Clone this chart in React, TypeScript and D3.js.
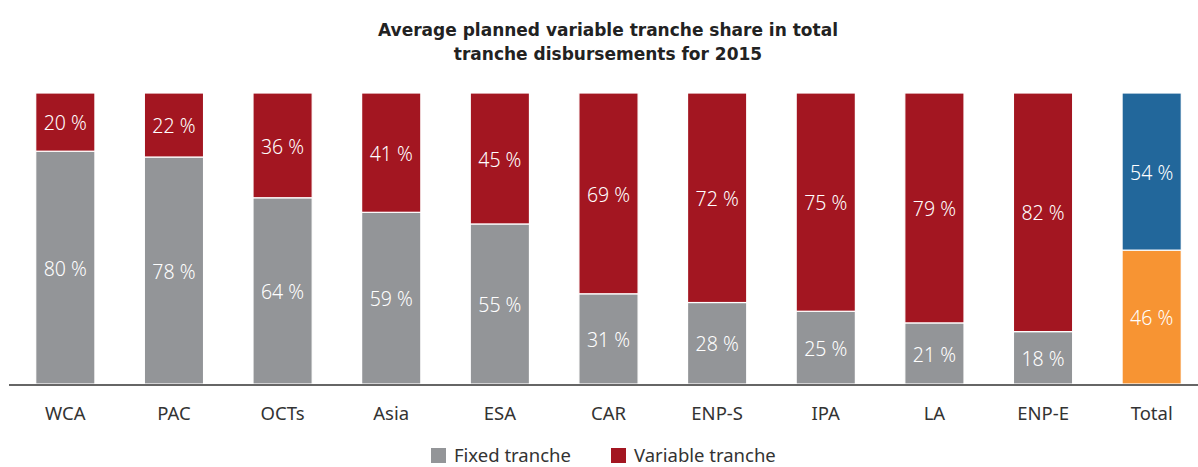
import React from 'react';
import * as d3 from 'd3';

const categories = ['WCA', 'PAC', 'OCTs', 'Asia', 'ESA', 'CAR', 'ENP-S', 'IPA', 'LA', 'ENP-E', 'Total'];
const fixedShare = [80, 78, 64, 59, 55, 31, 28, 25, 21, 18, 46];
const variableShare = [20, 22, 36, 41, 45, 69, 72, 75, 79, 82, 54];
const legendLabels = ['Fixed tranche', 'Variable tranche'];
const titleLines = ['Average planned variable tranche share in total', 'tranche disbursements for 2015'];

const W = 1198;
const H = 467;
const FONT = '"Noto Sans", "Open Sans", sans-serif';
const TITLE_FONT = '"DejaVu Sans", "Noto Sans", sans-serif';

const GRAY = '#939598';
const RED = '#A31621';
const BLUE = '#22679B';
const ORANGE = '#F79433';

const App = () => {
  const x = d3.scaleBand<string>()
    .domain(categories)
    .range([11, 1206])
    .paddingInner(0.455)
    .paddingOuter(0.2275);

  const y = d3.scaleLinear().domain([0, 100]).range([384, 93]);
  const bw = x.bandwidth();

  return (
    <svg width={W} height={H} style={{ position: 'absolute', left: 0, top: 0, fontFamily: FONT }}>
      <rect width={W} height={H} fill="#fff" />
      {titleLines.map((t, i) => (
        <text key={t} x={608} y={36 + i * 24} textAnchor="middle" fontSize={17}
          fontFamily={TITLE_FONT} fontWeight="bold" fill="#222">
          {t}
        </text>
      ))}

      {categories.map((c, i) => {
        const isTotal = c === 'Total';
        const x0 = x(c) as number;
        const fTop = y(fixedShare[i]);
        const vTop = y(fixedShare[i] + variableShare[i]);
        return (
          <g key={c}>
            <rect x={x0} y={fTop} width={bw} height={y(0) - fTop}
              fill={isTotal ? ORANGE : GRAY} stroke="#fff" strokeWidth={1.2} />
            <rect x={x0} y={vTop} width={bw} height={fTop - vTop}
              fill={isTotal ? BLUE : RED} stroke="#fff" strokeWidth={1.2} />
            <text x={x0 + bw / 2} y={(fTop + y(0)) / 2 + 3} textAnchor="middle" dominantBaseline="middle"
              fontSize={19.5} fontWeight={300} fill="#fff">{fixedShare[i]} %</text>
            <text x={x0 + bw / 2} y={(vTop + fTop) / 2 + 3} textAnchor="middle" dominantBaseline="middle"
              fontSize={19.5} fontWeight={300} fill="#fff">{variableShare[i]} %</text>
            <text x={x0 + bw / 2} y={420} textAnchor="middle" fontSize={18.5} fill="#333">{c}</text>
          </g>
        );
      })}

      <line x1={9} x2={W} y1={y(0) + 1} y2={y(0) + 1} stroke="#666" strokeWidth={2} />

      {legendLabels.map((l, i) => {
        const lx = 431 + i * 180;
        return (
          <g key={l}>
            <rect x={lx} y={448} width={15} height={15} fill={i === 0 ? GRAY : RED} />
            <text x={lx + 23} y={462} fontSize={18.5} fill="#333">{l}</text>
          </g>
        );
      })}
    </svg>
  );
};

export default App;
